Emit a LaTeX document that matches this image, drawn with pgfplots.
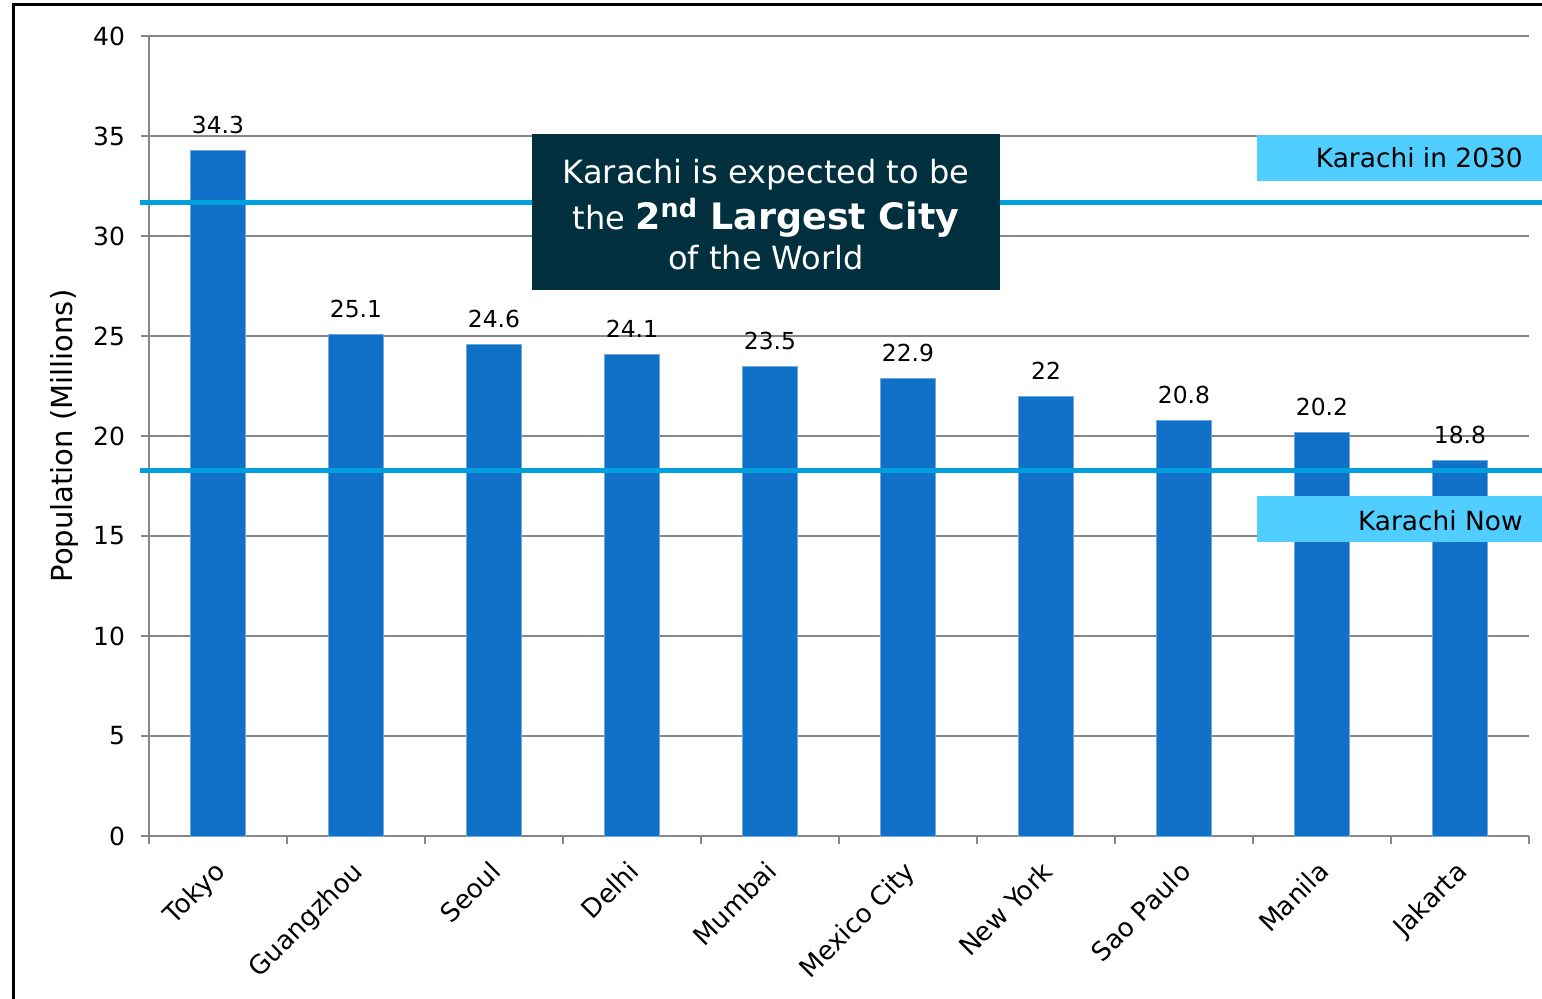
\documentclass[border=0pt]{standalone}
\usepackage{pgfplots}
\pgfplotsset{compat=1.18}
\usepackage{pgfplotstable}
\usepackage{fontspec}
\setmainfont{DejaVu Sans}
\definecolor{barblue}{HTML}{1170C8}
\definecolor{baredge}{HTML}{6FA8E0}
\definecolor{lineblue}{HTML}{00A0DC}
\definecolor{boxlight}{HTML}{50CEFF}
\definecolor{darkbox}{HTML}{03303F}
\definecolor{gridgray}{HTML}{868686}
\pgfplotstableread{
x y label
0 34.3 34.3
1 25.1 25.1
2 24.6 24.6
3 24.1 24.1
4 23.5 23.5
5 22.9 22.9
6 22.0 22
7 20.8 20.8
8 20.2 20.2
9 18.8 18.8
}\citydata
\begin{document}
\begin{tikzpicture}
\useasboundingbox (-74.5pt,-81pt) rectangle (696.5pt,418pt);
\clip (-74.5pt,-81pt) rectangle (696.5pt,418pt);
\fill[white] (-74.5pt,-81pt) rectangle (696.5pt,418pt);
\draw[black, line width=1.5pt] (-67.5pt,-90pt) -- (-67.5pt,415.5pt) -- (710pt,415.5pt);
\begin{axis}[
  at={(0pt,0pt)}, anchor=south west,
  scale only axis, width=690pt, height=400pt,
  xmin=-0.5, xmax=9.5, ymin=0, ymax=40,
  ytick={0,5,...,40},
  xtick={0,...,9},
  xticklabels={Tokyo,Guangzhou,Seoul,Delhi,Mumbai,Mexico City,New York,Sao Paulo,Manila,Jakarta},
  minor xtick={-0.5,0.5,...,9.5},
  axis lines*=left,
  axis line style={draw=gridgray, line width=0.9pt, -},
  tick align=outside,
  major tick length=4pt, minor tick length=4pt,
  tick style={draw=gridgray, line width=0.9pt},
  major x tick style={draw=none},
  ymajorgrids, grid style={gridgray, line width=0.75pt},
  clip=false,
  /pgf/number format/assume math mode=true,
  yticklabel style={font=\fontsize{12.5pt}{15pt}\selectfont, xshift=-4.5pt},
  xticklabel style={font=\fontsize{13pt}{16pt}\selectfont, rotate=45, anchor=north east, xshift=-4pt},
  ylabel={Population (Millions)},
  ylabel style={font=\fontsize{14.5pt}{17pt}\selectfont, at={(axis description cs:-0.061,0.5)}, anchor=center},
]
\addplot[ybar, bar width=27.5pt, fill=barblue, draw=baredge, line width=0.4pt,
  nodes near coords, point meta=explicit symbolic,
  nodes near coords style={font=\fontsize{11.7pt}{14pt}\selectfont, anchor=base, yshift=8.5pt, text=black}]
  table[x=x, y=y, meta=label] {\citydata};
\addplot[lineblue, line width=2.5pt, forget plot] coordinates {(-0.565,31.7) (9.7,31.7)};
\addplot[lineblue, line width=2.5pt, forget plot] coordinates {(-0.565,18.3) (9.7,18.3)};
\end{axis}
\fill[darkbox] (191.5pt,273pt) rectangle (425.5pt,351pt);
\node[inner sep=0pt, text=white, align=center,
  font=\fontsize{16pt}{21pt}\selectfont] at (308.5pt,310.5pt)
  {Karachi is expected to be\\[2pt] the {\fontsize{18.2pt}{21pt}\selectfont\bfseries 2\textsuperscript{nd} Largest City}\\[-1pt] of the World};
\fill[boxlight] (554pt,327.5pt) rectangle (700pt,350.5pt);
\node[anchor=base east, inner sep=0pt, font=\fontsize{13.2pt}{16pt}\selectfont] at (687pt,334pt) {Karachi in 2030};
\fill[boxlight] (554pt,147pt) rectangle (700pt,170pt);
\node[anchor=base east, inner sep=0pt, font=\fontsize{13.2pt}{16pt}\selectfont] at (687pt,153pt) {Karachi Now};
\end{tikzpicture}
\end{document}
